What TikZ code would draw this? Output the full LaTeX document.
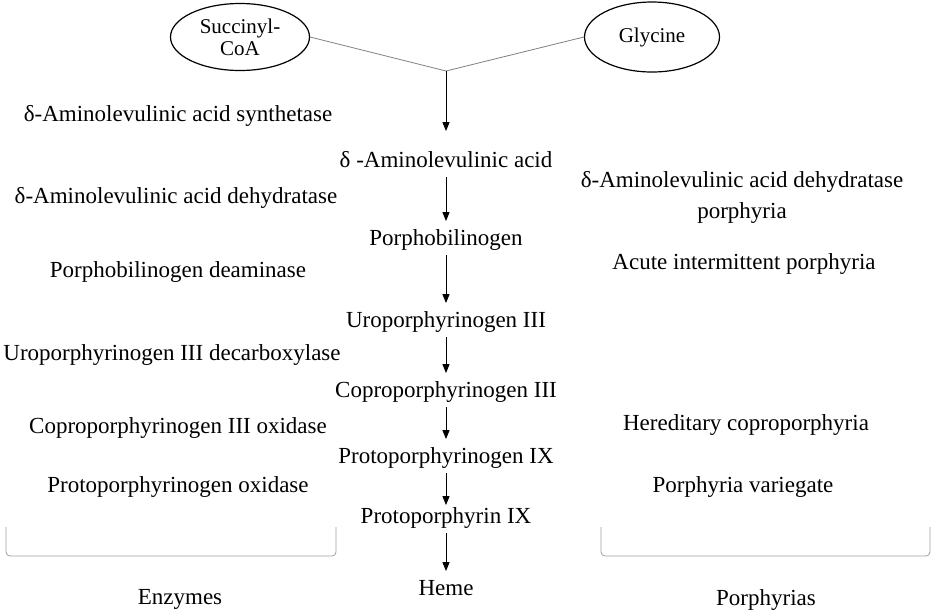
\documentclass[tikz,border=0pt]{standalone}
\usepackage{fontspec}
\setmainfont{Liberation Serif}
\usetikzlibrary{shapes.geometric,arrows.meta}
\begin{document}
\begin{tikzpicture}
		[x=0.5pt,y=-0.5pt,
		chem/.style={inner sep=0pt,text height=8pt,text depth=2.5pt,
font=\fontsize{11.5}{14}\selectfont},
		twoline/.style={inner sep=0pt,align=center,font=\fontsize{11.5}{15.5}\selectfont},
		start/.style={ellipse,draw,semithick,inner sep=0pt,align=center,
minimum width=69.5pt,minimum height=33.5pt,font=\fontsize{10.5}{11}\selectfont},
		tipstyle/.style={>={Triangle[length=4.5pt,width=3.5pt]},line width=0.5pt},
		edgestyle/.style={tipstyle,<-,shorten <=4pt,shorten >=2pt},
		bracestyle/.style={gray!75,rounded corners=2pt}]
		\useasboundingbox (0,0) rectangle (935,612);
		% substrates
		\node at (240,37) (succ) [start] {Succinyl-\\CoA};
		\node at (652,37) (gly) [start,minimum width=67.5pt,minimum height=35pt] {Glycine};
		\coordinate (junc) at (446,71);
		\draw [gray] (succ.east) -- (junc) -- (gly.west);
		% pathway
		\node at (446,162) (ala) [chem] {δ -Aminolevulinic acid};
		\draw [tipstyle,->,shorten >=10pt] (junc) -- (ala);
		\node at (446,240) (pbg) [chem] {Porphobilinogen}
			edge [edgestyle] (ala);
		\node at (446,322) (uro) [chem] {Uroporphyrinogen III}
			edge [edgestyle] (pbg);
		\node at (446,392) (copro) [chem] {Coproporphyrinogen III}
			edge [edgestyle] (uro);
		\node at (446,458) (protogen) [chem] {Protoporphyrinogen IX}
			edge [edgestyle] (copro);
		\node at (446,518) (proto) [chem] {Protoporphyrin IX}
			edge [edgestyle,shorten <=1pt] (protogen);
		\node at (446,590) (heme) [chem] {Heme}
			edge [edgestyle] (proto);
		% enzymes
		\node at (178,116) (alas) [chem] {δ-Aminolevulinic acid synthetase};
		\node at (176,198) (alad) [chem] {δ-Aminolevulinic acid dehydratase};
		\node at (178,272) (pbgd) [chem] {Porphobilinogen deaminase};
		\node at (172,355) (urod) [chem] {Uroporphyrinogen III decarboxylase};
		\node at (178,428) (cpox) [chem] {Coproporphyrinogen III oxidase};
		\node at (178,487) (ppox) [chem] {Protoporphyrinogen oxidase};
		% porphyrias
		\node at (742,197) (adp) [twoline] {δ-Aminolevulinic acid dehydratase\\porphyria};
		\node at (744,264) (aip) [chem] {Acute intermittent porphyria};
		\node at (746,425) (hcp) [chem] {Hereditary coproporphyria};
		\node at (743,487) (vp) [chem] {Porphyria variegate};
		% brackets
		\draw [bracestyle] (6,527) -- (6,556) -- (336,556) -- (336,527);
		\draw [bracestyle] (601,527) -- (601,556) -- (930,556) -- (930,527);
		\node at (180,599) (enz) [chem] {Enzymes};
		\node at (766,600) (por) [chem] {Porphyrias};
	\end{tikzpicture}
\end{document}
